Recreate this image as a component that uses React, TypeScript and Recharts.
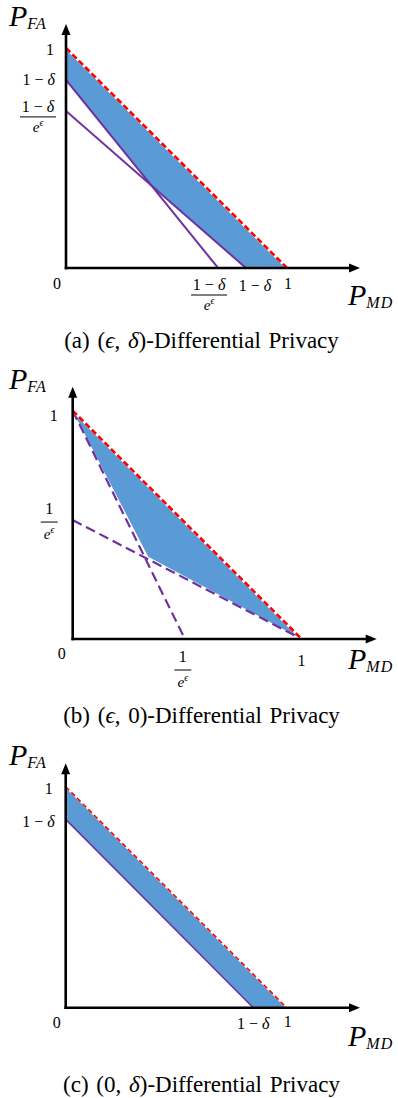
import React from 'react'
import { ComposedChart, Line, Area, XAxis, YAxis, ReferenceLine, Label } from 'recharts'

type Pt = { x: number; y: number }
type Band = { x: number; range: [number, number] }

// ---- panel (a): (ϵ, δ) ----
const aXTicks = [0, 0.688, 0.814, 1]
const aXLabels = ['0', '(1 − δ)/e^ϵ', '1 − δ', '1']
const aYTicks = [1, 0.855, 0.714]
const aYLabels = ['1', '1 − δ', '(1 − δ)/e^ϵ']
const aUpper: Pt[] = [{ x: 0, y: 1 }, { x: 1, y: 0 }]
const aLineSteep: Pt[] = [{ x: 0, y: 0.855 }, { x: 0.688, y: 0 }]
const aLineFlat: Pt[] = [{ x: 0, y: 0.714 }, { x: 0.814, y: 0 }]
const aRegion: Band[] = [
  { x: 0, range: [0.855, 1] },
  { x: 0.388, range: [0.374, 0.612] },
  { x: 0.814, range: [0, 0.186] },
  { x: 1, range: [0, 0] },
]

// ---- panel (b): (ϵ, 0) ----
const bXTicks = [0, 0.49, 1]
const bXLabels = ['0', '1/e^ϵ', '1']
const bYTicks = [1, 0.521]
const bYLabels = ['1', '1/e^ϵ']
const bUpper: Pt[] = [{ x: 0, y: 1 }, { x: 1, y: 0 }]
const bLineSteep: Pt[] = [{ x: 0, y: 1 }, { x: 0.49, y: 0 }]
const bLineFlat: Pt[] = [{ x: 0, y: 0.521 }, { x: 1, y: 0 }]
const bRegion: Band[] = [
  { x: 0, range: [1, 1] },
  { x: 0.33, range: [0.36, 0.67] },
  { x: 1, range: [0, 0] },
]

// ---- panel (c): (0, δ) ----
const cXTicks = [0, 0.849, 1]
const cXLabels = ['0', '1 − δ', '1']
const cYTicks = [1, 0.852]
const cYLabels = ['1', '1 − δ']
const cUpper: Pt[] = [{ x: 0, y: 1 }, { x: 1, y: 0 }]
const cLine: Pt[] = [{ x: 0, y: 0.852 }, { x: 0.849, y: 0 }]
const cRegion: Band[] = [
  { x: 0, range: [0.852, 1] },
  { x: 0.849, range: [0, 0.151] },
  { x: 1, range: [0, 0] },
]

const BLUE = '#5B9BD5'
const PURPLE = '#7030A0'
const RED = '#FF0000'
const SERIF = "'Liberation Serif', 'Times New Roman', serif"

function Term({ s }: { s: string }) {
  const parts = s.split(/(δ|ϵ)/)
  return (
    <>
      {parts.map((p, i) =>
        p === 'δ' || p === 'ϵ' ? (
          <tspan key={i} fontStyle="italic">{p}</tspan>
        ) : (
          <tspan key={i}>{p}</tspan>
        )
      )}
    </>
  )
}

type MathProps = {
  text: string
  x: number
  y: number
  anchor: 'middle' | 'end'
  size: number
  numGap: number
  denGap: number
}

function MathLabel({ text, x, y, anchor, size, numGap, denGap }: MathProps) {
  if (text.includes('/')) {
    const [numRaw, den] = text.split('/')
    const num = numRaw.replace(/[()]/g, '')
    const w = num === '1' ? 17 : 36
    const cx = anchor === 'end' ? x - w / 2 : x
    const [base, sup] = den.split('^')
    return (
      <g fontFamily={SERIF} fill="#000">
        <text x={cx} y={y - numGap} fontSize={size} textAnchor="middle">
          <Term s={num} />
        </text>
        <line x1={cx - w / 2} x2={cx + w / 2} y1={y} y2={y} stroke="#000" strokeWidth={1} />
        <text x={cx} y={y + denGap} fontSize={size * 0.95} textAnchor="middle">
          <tspan fontStyle="italic">{base}</tspan>
          <tspan fontStyle="italic" fontSize={size * 0.62} dy={-6}>{sup}</tspan>
        </text>
      </g>
    )
  }
  return (
    <text x={x} y={y} dy="0.35em" fontFamily={SERIF} fontSize={size} textAnchor={anchor} fill="#000">
      <Term s={text} />
    </text>
  )
}

function makeTick(
  ticks: number[],
  labels: string[],
  offsets: number[][],
  anchor: 'middle' | 'end',
  size: number,
  numGap: number,
  denGap: number
) {
  return (props: any) => {
    const { x, y, payload } = props
    const i = ticks.indexOf(payload.value)
    if (i < 0) return <g />
    const [dx, dy] = offsets[i]
    return (
      <MathLabel text={labels[i]} x={x + dx} y={y + dy} anchor={anchor} size={size} numGap={numGap} denGap={denGap} />
    )
  }
}

const ArrowShape = (props: any) => {
  const { x1, y1, x2, y2 } = props
  const ang = Math.atan2(y2 - y1, x2 - x1)
  const len = 11
  const half = 4.5
  const bx = x2 - len * Math.cos(ang)
  const by = y2 - len * Math.sin(ang)
  const px = -Math.sin(ang) * half
  const py = Math.cos(ang) * half
  return (
    <g>
      <line x1={x1} y1={y1} x2={bx} y2={by} stroke="#000" strokeWidth={2.6} strokeLinecap="square" />
      <polygon points={`${x2},${y2} ${bx + px},${by + py} ${bx - px},${by - py}`} fill="#000" />
    </g>
  )
}

function AxisTitle({ x, y, sub }: { x: number; y: number; sub: string }) {
  return (
    <text x={x} y={y} fontFamily={SERIF} fontStyle="italic" fill="#000">
      <tspan fontSize={30}>P</tspan>
      <tspan fontSize={16} dy={3} letterSpacing={1}>{sub}</tspan>
    </text>
  )
}

type PanelProps = {
  top: number
  height: number
  ox: number
  oy: number
  right: number
  plotTop: number
  xMax: number
  yMax: number
  xTicks: number[]
  xLabels: string[]
  xOffsets: number[][]
  yTicks: number[]
  yLabels: string[]
  yOffsets: number[][]
  region: Band[]
  upper: Pt[]
  lines: Pt[][]
  lineWidth: number
  lineDash?: string
  upperWidth: number
  upperDash: string
  tickSize: number
  numGap: number
  denGap: number
  mdDy: number
}

function Panel(p: PanelProps) {
  const Y_W = 60
  const X_H = 40
  const margin = {
    top: p.plotTop - p.top,
    left: p.ox - Y_W,
    right: 398 - p.right,
    bottom: p.height - (p.oy - p.top) - X_H,
  }
  return (
    <div style={{ position: 'absolute', left: 0, top: p.top }}>
      <ComposedChart width={398} height={p.height} margin={margin}>
        <XAxis
          dataKey="x"
          type="number"
          domain={[0, p.xMax]}
          allowDataOverflow
          ticks={p.xTicks}
          interval={0}
          height={X_H}
          axisLine={false}
          tickLine={false}
          tickSize={0}
          tickMargin={0}
          tick={makeTick(p.xTicks, p.xLabels, p.xOffsets, 'middle', p.tickSize, p.numGap, p.denGap)}
        >
          <Label content={() => <AxisTitle x={348} y={p.oy - p.top + p.mdDy} sub="MD" />} />
        </XAxis>
        <YAxis
          type="number"
          domain={[0, p.yMax]}
          allowDataOverflow
          ticks={p.yTicks}
          interval={0}
          width={Y_W}
          axisLine={false}
          tickLine={false}
          tickSize={0}
          tickMargin={0}
          tick={makeTick(p.yTicks, p.yLabels, p.yOffsets, 'end', p.tickSize, p.numGap, p.denGap)}
        >
          <Label content={() => <AxisTitle x={9} y={p.plotTop - p.top + 2} sub="FA" />} />
        </YAxis>
        <Area
          data={p.region}
          dataKey="range"
          type="linear"
          fill={BLUE}
          fillOpacity={1}
          stroke="none"
          isAnimationActive={false}
        />
        {p.lines.map((d, i) => (
          <Line
            key={i}
            data={d}
            dataKey="y"
            type="linear"
            stroke={PURPLE}
            strokeWidth={p.lineWidth}
            strokeDasharray={p.lineDash}
            dot={false}
            activeDot={false}
            isAnimationActive={false}
          />
        ))}
        <Line
          data={p.upper}
          dataKey="y"
          type="linear"
          stroke="#fff"
          strokeWidth={p.upperWidth}
          dot={false}
          activeDot={false}
          isAnimationActive={false}
        />
        <Line
          data={p.upper}
          dataKey="y"
          type="linear"
          stroke={RED}
          strokeWidth={p.upperWidth}
          strokeDasharray={p.upperDash}
          dot={false}
          activeDot={false}
          isAnimationActive={false}
        />
        <ReferenceLine
          segment={[{ x: 0, y: 0 }, { x: p.xMax, y: 0 }]}
          ifOverflow="visible"
          shape={ArrowShape}
        />
        <ReferenceLine
          segment={[{ x: 0, y: 0 }, { x: 0, y: p.yMax }]}
          ifOverflow="visible"
          shape={ArrowShape}
        />
      </ComposedChart>
    </div>
  )
}

function Caption({ top, children }: { top: number; children: React.ReactNode }) {
  return (
    <div
      style={{
        position: 'absolute',
        left: 0,
        top,
        width: 403,
        textAlign: 'center',
        fontFamily: SERIF,
        fontSize: 23,
        lineHeight: '23px',
        wordSpacing: 2,
        color: '#000',
        whiteSpace: 'nowrap',
      }}
    >
      {children}
    </div>
  )
}

export default function App() {
  return (
    <div style={{ position: 'absolute', left: 0, top: 0, width: 398, height: 1098, background: '#fff', overflow: 'hidden' }}>
      <Panel
        top={0}
        height={320}
        ox={66}
        oy={268}
        right={360}
        plotTop={24}
        xMax={1.33}
        yMax={1.109}
        xTicks={aXTicks}
        xLabels={aXLabels}
        xOffsets={[[-9, 15], [-9, 27], [9, 17], [1, 15]]}
        yTicks={aYTicks}
        yLabels={aYLabels}
        yOffsets={[[-12, 1], [-11, 0], [-10, 6]]}
        region={aRegion}
        upper={aUpper}
        lines={[aLineSteep, aLineFlat]}
        lineWidth={2}
        upperWidth={2.6}
        upperDash="6 3"
        tickSize={16}
        numGap={5}
        denGap={15}
        mdDy={37}
      />
      <Caption top={329}>
        (a) (<i>ϵ</i>, <i>δ</i>)-Differential Privacy
      </Caption>
      <Panel
        top={340}
        height={360}
        ox={72.7}
        oy={639}
        right={376.7}
        plotTop={386.7}
        xMax={1.328}
        yMax={1.105}
        xTicks={bXTicks}
        xLabels={bXLabels}
        xOffsets={[[-11, 14], [-2, 31], [0, 21]]}
        yTicks={bYTicks}
        yLabels={bYLabels}
        yOffsets={[[-15, 5], [-15, 2]]}
        region={bRegion}
        upper={bUpper}
        lines={[bLineSteep, bLineFlat]}
        lineWidth={2.2}
        lineDash="10 5"
        upperWidth={2.6}
        upperDash="6 3"
        tickSize={16}
        numGap={8}
        denGap={17}
        mdDy={30}
      />
      <Caption top={704}>
        (b) (<i>ϵ</i>, 0)-Differential Privacy
      </Caption>
      <Panel
        top={728}
        height={332}
        ox={65.7}
        oy={1007.7}
        right={360}
        plotTop={763.3}
        xMax={1.332}
        yMax={1.106}
        xTicks={cXTicks}
        xLabels={cXLabels}
        xOffsets={[[-9, 15], [0, 16], [1, 14]]}
        yTicks={cYTicks}
        yLabels={cYLabels}
        yOffsets={[[-13, 2], [-11, 2]]}
        region={cRegion}
        upper={cUpper}
        lines={[cLine]}
        lineWidth={1.6}
        upperWidth={1.6}
        upperDash="5 3"
        tickSize={16}
        numGap={5}
        denGap={15}
        mdDy={38}
      />
      <Caption top={1073}>
        (c) (0, <i>δ</i>)-Differential Privacy
      </Caption>
    </div>
  )
}
